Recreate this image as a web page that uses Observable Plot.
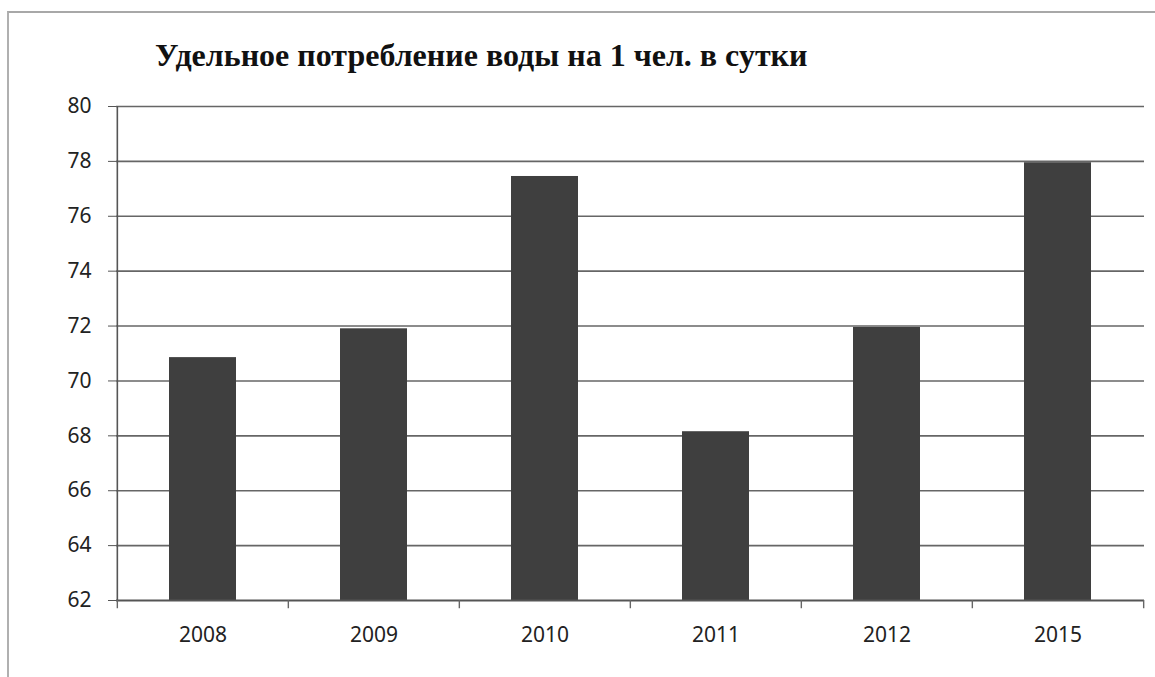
<!DOCTYPE html>
<html>
<head>
<meta charset="utf-8">
<script src="https://cdn.jsdelivr.net/npm/d3@7"></script>
<script src="https://cdn.jsdelivr.net/npm/@observablehq/plot@0.6"></script>
<style>
  html, body { margin: 0; padding: 0; background: #fff; }
  #wrap { position: relative; width: 1155px; height: 677px; overflow: hidden; background: #fff; }
  #frame { position: absolute; left: 7px; top: 11px; right: -2px; bottom: -2px;
           border-top: 2px solid #a8a8a8; border-left: 2px solid #b0b0b0; }
  #title { position: absolute; left: 155px; top: 37px; font-family: "Liberation Serif", "DejaVu Serif", serif;
           font-weight: bold; font-size: 32px; color: #111; white-space: nowrap; }
  #chart { position: absolute; left: 0; top: 90px; }
</style>
</head>
<body>
<div id="wrap">
  <div id="frame"></div>
  <div id="title">Удельное потребление воды на 1 чел. в сутки</div>
  <div id="chart"></div>
</div>
<script>
const years = ["2008", "2009", "2010", "2011", "2012", "2015"];
const values = [70.85, 71.9, 77.45, 68.15, 71.95, 77.95];
const yTicks = [62, 64, 66, 68, 70, 72, 74, 76, 78, 80];
const yMin = 62, yMax = 80;

const data = years.map((y, i) => ({year: y, value: values[i]}));

const W = 1155, H = 587;
const mL = 116, mR = 11;
const half = (W - mL - mR) / years.length / 2;

const plot = Plot.plot({
  width: W,
  height: H,
  marginTop: 16,
  marginBottom: 77,
  marginLeft: mL,
  marginRight: mR,
  style: {fontFamily: "'Noto Sans', 'Open Sans', sans-serif", fontSize: "21px", color: "#222", background: "transparent"},
  x: {domain: years, paddingInner: 0.61, paddingOuter: 0.305, label: null},
  y: {domain: [yMin, yMax], label: null},
  marks: [
    Plot.ruleY(yTicks.filter(t => t > yMin), {stroke: "#666", strokeWidth: 1.6}),
    Plot.barY(data, {x: "year", y1: yMin, y2: "value", fill: "#3f3f3f"}),
    Plot.ruleY([yMin], {stroke: "#555", strokeWidth: 1.8}),
    // y-axis line at the left edge
    Plot.ruleX([years[0]], {dx: -half, y1: yMin, y2: yMax, stroke: "#555", strokeWidth: 1.6}),
    // category boundary ticks below the axis
    Plot.ruleX(years, {dx: -half, y1: yMin, y2: yMin - 0.3, stroke: "#666", strokeWidth: 1.4}),
    Plot.ruleX([years[years.length - 1]], {dx: half, y1: yMin, y2: yMin - 0.3, stroke: "#666", strokeWidth: 1.4}),
    Plot.axisY({ticks: yTicks, tickSize: 8, tickPadding: 17, stroke: "#555", fill: "#222", tickFormat: d => d}),
    Plot.axisX({tickSize: 0, tickPadding: 27, fill: "#222"})
  ]
});
document.getElementById("chart").appendChild(plot);
</script>
</body>
</html>
